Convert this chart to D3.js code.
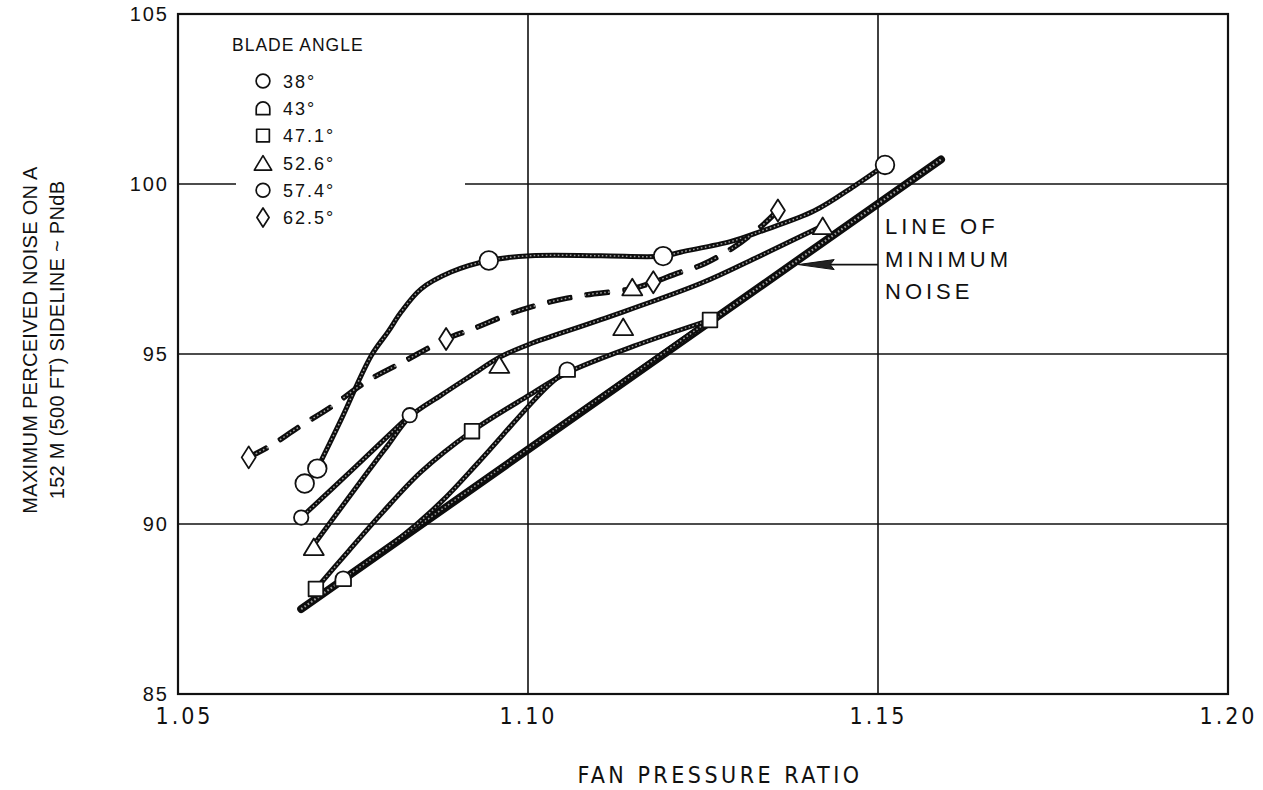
<!DOCTYPE html>
<html>
<head>
<meta charset="utf-8">
<script src="https://cdn.jsdelivr.net/npm/d3@7"></script>
<style>
  html, body { margin: 0; padding: 0; background: #fff; }
  svg { display: block; }
  text { fill: #111; }
</style>
</head>
<body>
<svg id="chart" width="1263" height="790"></svg>
<script>
// ---- Axis ticks ----
const xTicks = [1.05, 1.10, 1.15, 1.20];
const yTicks = [85, 90, 95, 100, 105];

// ---- Legend ----
const bladeAngles = ["38°", "43°", "47.1°", "52.6°", "57.4°", "62.5°"];
const bladeSymbols = ["circle", "dome", "square", "triangle", "circle", "diamond"];

// ---- Test points: [fan pressure ratio, max PNdB] ----
const pts38  = [[1.0676, 90.19], [1.0831, 93.20]];
const pts43  = [[1.0736, 88.39], [1.1056, 94.54]];
const pts471 = [[1.0697, 88.09], [1.0920, 92.73], [1.1260, 96.00]];
const pts526 = [[1.0694, 89.33], [1.0959, 94.69], [1.1136, 95.80], [1.1149, 96.97], [1.1421, 98.77]];
const pts574 = [[1.0681, 91.19], [1.0699, 91.63], [1.0944, 97.75], [1.1193, 97.88], [1.1510, 100.56]];
const pts625 = [[1.0601, 91.96], [1.0883, 95.44], [1.1179, 97.11], [1.1357, 99.22]];

// ---- Faired curves: [fan pressure ratio, max PNdB] ----
const fair38 = [[1.0676, 90.19], [1.0754, 91.69], [1.0831, 93.20]];
const fair43 = [[1.0736, 88.39], [1.0819, 89.62], [1.0876, 90.65], [1.0929, 91.81], [1.1023, 93.95], [1.1056, 94.54]];
const fair43b = [[1.0736, 88.39], [1.0997, 92.17], [1.1260, 96.00]];
const fair471 = [[1.0697, 88.09], [1.0743, 89.19], [1.0790, 90.29], [1.0847, 91.53], [1.0920, 92.73],
                 [1.1001, 93.78], [1.1056, 94.45], [1.1151, 95.23], [1.1260, 96.00]];
const fair526 = [[1.0694, 89.39], [1.0733, 90.48], [1.0769, 91.48], [1.0800, 92.32], [1.0831, 93.15],
                 [1.0876, 93.79], [1.0919, 94.37], [1.0959, 94.90], [1.1001, 95.28], [1.1104, 96.01],
                 [1.1247, 97.08], [1.1333, 97.90], [1.1421, 98.77]];
const fair574 = [[1.0699, 91.63], [1.0733, 93.07], [1.0776, 94.95], [1.0800, 95.65], [1.0819, 96.24],
                 [1.0847, 96.91], [1.0890, 97.41], [1.0944, 97.75], [1.1004, 97.89], [1.1104, 97.89],
                 [1.1193, 97.88], [1.1219, 98.00], [1.1290, 98.31], [1.1333, 98.61], [1.1409, 99.21],
                 [1.1466, 99.94], [1.1510, 100.56]];
const fair625 = [[1.0601, 91.96], [1.0633, 92.31], [1.0671, 92.83], [1.0719, 93.45], [1.0769, 94.19],
                 [1.0821, 94.76], [1.0883, 95.44], [1.0919, 95.72], [1.0979, 96.22], [1.1033, 96.54],
                 [1.1083, 96.74], [1.1147, 96.91], [1.1179, 97.11], [1.1214, 97.38], [1.1247, 97.61],
                 [1.1280, 97.96], [1.1304, 98.28], [1.1333, 98.75], [1.1357, 99.22]];
const minNoise = [[1.0676, 87.50], [1.1590, 100.72]];

// Arrow of the "line of minimum noise" note: [from, to]
const noteArrow = [[1.1500, 97.63], [1.1386, 97.63]];
const noteLines = ["LINE OF", "MINIMUM", "NOISE"];

// ---- Scales ----
const x = d3.scaleLinear().domain([1.05, 1.20]).range([178, 1228]);
const y = d3.scaleLinear().domain([85, 105]).range([694, 14]);

const svg = d3.select("#chart");
const SANS = '"Liberation Sans", Arial, Helvetica, sans-serif';
const NARROW = '"Liberation Sans Narrow", "Arial Narrow", "DejaVu Sans Condensed", sans-serif';

// ---- Grid ----
const grid = svg.append("g").attr("stroke", "#111").attr("stroke-width", 1.6);
grid.selectAll("line.v").data(xTicks.slice(1, -1)).join("line")
  .attr("x1", d => x(d)).attr("x2", d => x(d))
  .attr("y1", y(105)).attr("y2", y(85));
grid.selectAll("line.h").data(yTicks.slice(1, -1)).join("line")
  .attr("x1", x(1.05)).attr("x2", x(1.20))
  .attr("y1", d => y(d)).attr("y2", d => y(d));

// Frame
svg.append("rect")
  .attr("x", x(1.05)).attr("y", y(105))
  .attr("width", x(1.20) - x(1.05)).attr("height", y(85) - y(105))
  .attr("fill", "none").attr("stroke", "#111").attr("stroke-width", 2.2);

// ---- Axes (labels only) ----
const yAxis = d3.axisLeft(y).tickValues(yTicks).tickSize(0).tickPadding(9).tickFormat(d3.format("d"));
svg.append("g").attr("transform", `translate(${x(1.05)},0)`).call(yAxis)
  .call(g => g.select(".domain").remove())
  .call(g => g.selectAll("text").attr("font-family", SANS).attr("font-size", 20)
    .attr("letter-spacing", "2px").attr("fill", "#111"));

const xAxis = d3.axisBottom(x).tickValues(xTicks).tickSize(0).tickPadding(14).tickFormat(d3.format(".2f"));
svg.append("g").attr("transform", `translate(0,${y(85)})`).call(xAxis)
  .call(g => g.select(".domain").remove())
  .call(g => g.selectAll("text").attr("font-family", NARROW).attr("font-size", 23)
    .attr("letter-spacing", "3px").attr("fill", "#111"))
  .call(g => g.selectAll(".tick").filter(d => d === 1.05).select("text").attr("dx", "6px"));

// Axis titles
svg.append("text")
  .attr("x", 720).attr("y", 783).attr("text-anchor", "middle")
  .attr("font-family", NARROW).attr("font-size", 23).attr("letter-spacing", "3.5px")
  .text("FAN PRESSURE RATIO");

const yTitle = svg.append("g").attr("transform", "translate(0,340) rotate(-90)")
  .attr("font-family", SANS).attr("font-size", 20).attr("letter-spacing", "0.3px")
  .attr("text-anchor", "middle");
yTitle.append("text").attr("x", 0).attr("y", 37).text("MAXIMUM PERCEIVED NOISE ON A");
yTitle.append("text").attr("x", 0).attr("y", 64).text("152 M (500 FT) SIDELINE ~ PNdB");

// ---- Legend ----
const legend = svg.append("g");
legend.append("rect").attr("x", 236).attr("y", 24).attr("width", 229).attr("height", 208).attr("fill", "#fff");
legend.append("text").attr("x", 232).attr("y", 51)
  .attr("font-family", SANS).attr("font-size", 17.5).attr("letter-spacing", "1px")
  .text("BLADE ANGLE");

// ---- Marker shapes ----
function markerPath(type, s) {
  const p = d3.path();
  if (type === "circle") {
    const r = 9.3 * s; p.moveTo(r, 0); p.arc(0, 0, r, 0, 2 * Math.PI);
  } else if (type === "circleSmall") {
    const r = 7.2 * s; p.moveTo(r, 0); p.arc(0, 0, r, 0, 2 * Math.PI);
  } else if (type === "square") {
    const h = 7.3 * s; p.rect(-h, -h, 2 * h, 2 * h);
  } else if (type === "triangle") {
    const w = 10 * s, h = 8.3 * s;
    p.moveTo(0, -h); p.lineTo(w, h); p.lineTo(-w, h); p.closePath();
  } else if (type === "diamond") {
    const w = 7 * s, h = 11 * s;
    p.moveTo(0, -h); p.lineTo(w, 0); p.lineTo(0, h); p.lineTo(-w, 0); p.closePath();
  } else if (type === "dome") {
    const w = 7.8 * s, h = 7.3 * s, c = -h + w;
    p.moveTo(-w, h); p.lineTo(w, h); p.lineTo(w, c); p.arc(0, c, w, 0, Math.PI, true); p.closePath();
  }
  return p.toString();
}

legend.selectAll("g.entry").data(bladeAngles).join("g")
  .attr("transform", (d, i) => `translate(0,${81 + i * 27.3})`)
  .each(function (d, i) {
    const g = d3.select(this);
    g.append("path").attr("transform", "translate(263,0)")
      .attr("d", markerPath(bladeSymbols[i], i === 4 || i === 0 ? 0.74 : 0.87))
      .attr("fill", "#fff").attr("stroke", "#111").attr("stroke-width", 1.7)
      .attr("stroke-linejoin", "round");
    g.append("text").attr("x", 283).attr("y", 6.8)
      .attr("font-family", SANS).attr("font-size", 18).attr("letter-spacing", "2px")
      .text(d);
  });

// ---- Curves ----
const line = d3.line().x(d => x(d[0])).y(d => y(d[1])).curve(d3.curveCatmullRom.alpha(0.5));
const curves = svg.append("g").attr("fill", "none");

function textured(data, width, dots) {
  curves.append("path").attr("d", line(data))
    .attr("stroke", "#0d0d0d").attr("stroke-width", width)
    .attr("stroke-linecap", "round").attr("stroke-linejoin", "round");
  curves.append("path").attr("d", line(data))
    .attr("stroke", "#fff").attr("stroke-width", dots).attr("stroke-dasharray", "1.6 2.4")
    .attr("opacity", 0.6);
}

textured(minNoise, 8, 2.2);
textured(fair43b, 5, 1.5);
textured(fair471, 5, 1.5);
textured(fair43, 5, 1.5);
textured(fair38, 5, 1.5);
textured(fair526, 5, 1.5);
textured(fair574, 5, 1.5);

// Dashed curve for 62.5°, textured inside the dashes
const defs = svg.append("defs");
defs.append("mask").attr("id", "dash625").attr("maskUnits", "userSpaceOnUse")
  .attr("x", 0).attr("y", 0).attr("width", 1263).attr("height", 790)
  .append("path").attr("d", line(fair625)).attr("fill", "none")
  .attr("stroke", "#fff").attr("stroke-width", 8)
  .attr("stroke-dasharray", "18 20").attr("stroke-linecap", "round");
const dashed = curves.append("g").attr("mask", "url(#dash625)");
dashed.append("path").attr("d", line(fair625))
  .attr("stroke", "#0d0d0d").attr("stroke-width", 5.5).attr("stroke-linecap", "round");
dashed.append("path").attr("d", line(fair625))
  .attr("stroke", "#fff").attr("stroke-width", 1.5).attr("stroke-dasharray", "1.6 2.4").attr("opacity", 0.6);

// ---- Markers ----
const markerSets = [
  [pts38, "circleSmall"], [pts43, "dome"], [pts471, "square"],
  [pts526, "triangle"], [pts574, "circle"], [pts625, "diamond"]
];
const marks = svg.append("g");
markerSets.forEach(([pts, type]) => {
  marks.selectAll(null).data(pts).join("path")
    .attr("transform", d => `translate(${x(d[0])},${y(d[1])})`)
    .attr("d", markerPath(type, 1))
    .attr("fill", "#fff").attr("stroke", "#111").attr("stroke-width", 1.8)
    .attr("stroke-linejoin", "round");
});

// ---- Note: line of minimum noise ----
const [a0, a1] = noteArrow;
svg.append("line")
  .attr("x1", x(a0[0])).attr("y1", y(a0[1])).attr("x2", x(a1[0]) + 30).attr("y2", y(a1[1]))
  .attr("stroke", "#111").attr("stroke-width", 1.8);
svg.append("path")
  .attr("d", `M${x(a1[0])},${y(a1[1])} L${x(a1[0]) + 36},${y(a1[1]) - 5} L${x(a1[0]) + 32},${y(a1[1])} L${x(a1[0]) + 36},${y(a1[1]) + 5} Z`)
  .attr("fill", "#222").attr("stroke", "#111").attr("stroke-width", 1);

svg.append("g").attr("font-family", SANS).attr("font-size", 22).attr("letter-spacing", "4px")
  .selectAll("text").data(noteLines).join("text")
  .attr("x", x(1.15) + 7).attr("y", (d, i) => 234 + i * 32.5)
  .text(d => d);
</script>
</body>
</html>
